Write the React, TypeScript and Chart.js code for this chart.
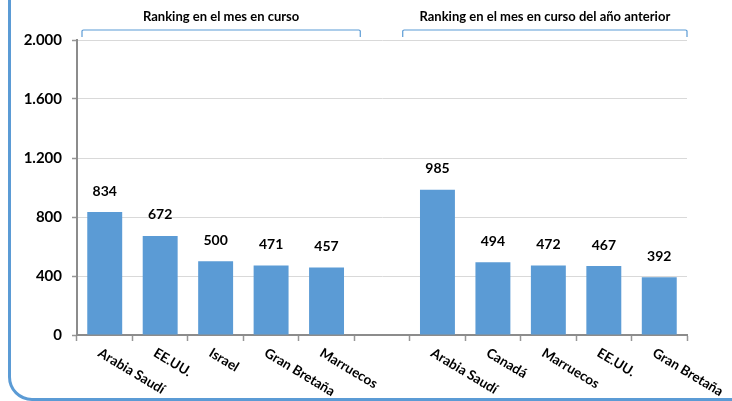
import React, { useEffect, useRef } from "react";
import { Chart, registerables } from "chart.js";

Chart.register(...registerables);

const categories = [
  "Arabia Saudí",
  "EE.UU.",
  "Israel",
  "Gran Bretaña",
  "Marruecos",
  "",
  "Arabia Saudí",
  "Canadá",
  "Marruecos",
  "EE.UU.",
  "Gran Bretaña",
];
const values: (number | null)[] = [834, 672, 500, 471, 457, null, 985, 494, 472, 467, 392];
const groupTitles = ["Ranking en el mes en curso", "Ranking en el mes en curso del año anterior"];
const groupRanges = [
  [0, 4],
  [6, 10],
];
const yTicks = [0, 400, 800, 1200, 1600, 2000];

const FONT = "Lato, 'Open Sans', sans-serif";
const BLUE = "#5B9BD5";

function fmt(v: number) {
  return v.toLocaleString("de-DE");
}

const overlay = {
  id: "overlay",
  afterDraw(chart: any) {
    const ctx = chart.ctx;
    const xs = chart.scales.x;
    const meta = chart.getDatasetMeta(0);
    ctx.save();
    // value labels
    ctx.fillStyle = "#000";
    ctx.font = `bold 14px ${FONT}`;
    ctx.textAlign = "center";
    ctx.textBaseline = "middle";
    meta.data.forEach((bar: any, i: number) => {
      const v = values[i];
      if (v == null) return;
      ctx.fillText(fmt(v), bar.x, bar.y - 21);
    });
    // rotated category labels
    ctx.font = `bold 13.5px ${FONT}`;
    ctx.textAlign = "left";
    ctx.textBaseline = "top";
    categories.forEach((c, i) => {
      if (!c) return;
      const x = xs.getPixelForValue(i);
      ctx.save();
      ctx.translate(x - 2, chart.chartArea.bottom + 11);
      ctx.rotate((31 * Math.PI) / 180);
      ctx.fillText(c, 0, 0);
      ctx.restore();
    });
    // brackets and titles
    const half = (xs.getPixelForValue(1) - xs.getPixelForValue(0)) / 2;
    groupRanges.forEach((r, g) => {
      let x0: number, x1: number;
      if (g === 0) {
        x0 = xs.getPixelForValue(r[0]) - half + 5;
        x1 = xs.getPixelForValue(r[1]) + half + 6;
      } else {
        x0 = xs.getPixelForValue(r[0]) - half - 7;
        x1 = xs.getPixelForValue(r[1]) + half;
      }
      ctx.strokeStyle = BLUE;
      ctx.lineWidth = 1.2;
      ctx.beginPath();
      ctx.moveTo(x0, 37);
      ctx.lineTo(x0, 31);
      ctx.quadraticCurveTo(x0, 30, x0 + 1.5, 30);
      ctx.lineTo(x1 - 1.5, 30);
      ctx.quadraticCurveTo(x1, 30, x1, 31);
      ctx.lineTo(x1, 37);
      ctx.stroke();
      ctx.fillStyle = "#000";
      ctx.font = `bold 13px ${FONT}`;
      ctx.textAlign = "center";
      ctx.textBaseline = "middle";
      ctx.fillText(groupTitles[g], (x0 + x1) / 2, 17);
    });
    ctx.restore();
  },
};

export default function App() {
  const ref = useRef<HTMLCanvasElement>(null);
  useEffect(() => {
    document.body.style.margin = "0";
    const chart = new Chart(ref.current!, {
      type: "bar",
      data: {
        labels: categories,
        datasets: [
          {
            data: values,
            backgroundColor: BLUE,
            barPercentage: 0.63,
            categoryPercentage: 1,
          },
        ],
      },
      options: {
        animation: false,
        responsive: false,
        maintainAspectRatio: false,
        layout: { padding: { top: 40, right: 45, left: 0, bottom: 0 } },
        plugins: { legend: { display: false }, tooltip: { enabled: false } },
        scales: {
          x: {
            ticks: { display: false },
            grid: {
              offset: true,
              drawOnChartArea: false,
              drawTicks: true,
              tickLength: 6,
              tickColor: "#969696",
              tickWidth: 1.5,
            },
            border: { color: "#8C8C8C", width: 2 },
            afterFit: (s: any) => {
              s.height = 66;
            },
          },
          y: {
            min: 0,
            max: 2000,
            afterBuildTicks: (s: any) => {
              s.ticks = yTicks.map((v) => ({ value: v }));
            },
            ticks: {
              color: "#000",
              padding: 10,
              font: { family: FONT, size: 15, weight: "bold" },
              callback: (v: any) => fmt(Number(v)),
            },
            grid: {
              color: "#D9D9D9",
              lineWidth: 1,
              tickLength: 5,
              tickColor: "#969696",
              tickWidth: 1.5,
            },
            border: { color: "#8C8C8C", width: 2 },
            afterFit: (s: any) => {
              s.width = 77;
            },
          },
        },
      },
      plugins: [overlay],
    });
    return () => chart.destroy();
  }, []);
  return (
    <div style={{ position: "fixed", left: 0, top: 0, width: 732, height: 401, overflow: "hidden", background: "#fff" }}>
      <div
        style={{
          position: "absolute",
          left: 8,
          top: -40,
          width: 900,
          height: 441,
          boxSizing: "border-box",
          border: `3px solid ${BLUE}`,
          borderRadius: 24,
        }}
      />
      <canvas ref={ref} width={732} height={401} style={{ position: "absolute", left: 0, top: 0, width: 732, height: 401 }} />
    </div>
  );
}
